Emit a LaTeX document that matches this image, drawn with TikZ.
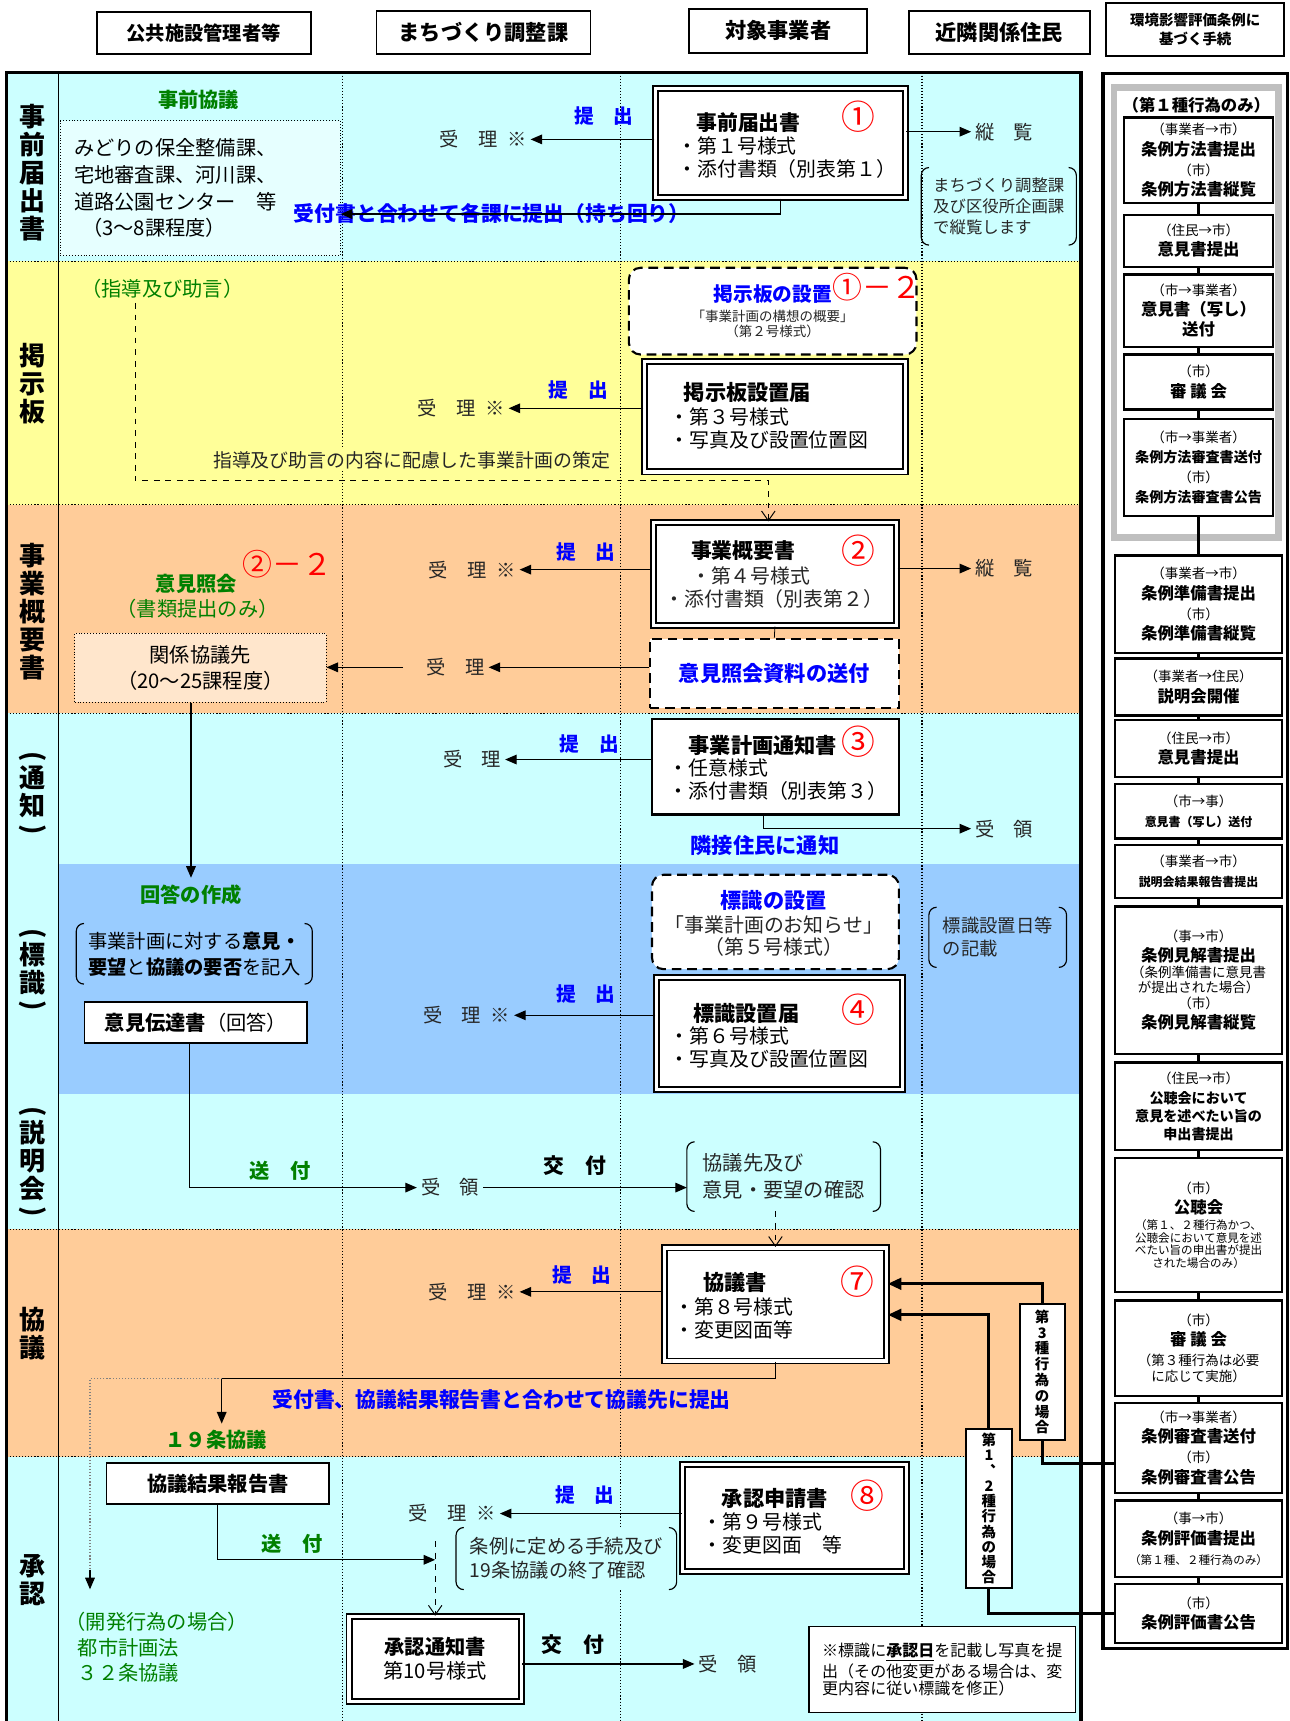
\documentclass[tikz,border=0pt]{standalone}
\usepackage{fontspec,graphicx}
\setmainfont{Noto Sans CJK JP}
\usetikzlibrary{arrows.meta,calc}
\newdimen\pu \pu=0.02cm
\definecolor{cbg}{HTML}{CCFFFF}\definecolor{ybg}{HTML}{FFFF99}\definecolor{obg}{HTML}{FFCC99}
\definecolor{bbg}{HTML}{99CCFF}\definecolor{lcy}{HTML}{E6FFFF}\definecolor{lpe}{HTML}{FFE6CC}
\definecolor{gtx}{HTML}{008000}\definecolor{btx}{HTML}{0000FF}\definecolor{rtx}{HTML}{FF0000}
\newcommand\fz[2]{\fontsize{#1}{#2}\selectfont}
\newcommand\csm{\fz{7}{9}}\newcommand\cbf{\fz{8.5}{10}\bfseries}\newcommand\cmd{\fz{7.3}{9}\bfseries}
\newcommand\ctn{\fz{6.2}{8}\bfseries}\newcommand\cxs{\fz{6}{7}}
\newcommand\vpo{\rotatebox[origin=c]{-90}{(}}\newcommand\vpc{\rotatebox[origin=c]{-90}{)}}
\newcommand\brk[1]{\draw[line width=0.6pt,rounded corners=4pt]([xshift=4pt]#1.north west)--(#1.north west)--(#1.south west)--([xshift=4pt]#1.south west)
 ([xshift=-4pt]#1.north east)--(#1.north east)--(#1.south east)--([xshift=-4pt]#1.south east);}
\tikzset{sz/.style 2 args={minimum width=#1\pu,minimum height=#2\pu},
 txt/.style={font=\fz{10}{12.5},text=black!85,inner sep=2pt},ttl/.style={font=\fz{10.8}{13}\bfseries,inner sep=1pt},
 itm/.style={font=\fz{10.3}{11.8},align=left,anchor=north west,inner sep=0pt},
 grn/.style={font=\fz{10.5}{13}\bfseries,text=gtx},blu/.style={font=\fz{10.2}{13}\bfseries,text=btx},
 rnum/.style={font=\fz{17.5}{18},text=rtx,inner sep=0pt},rnum2/.style={rnum,font=\fz{15.5}{16}},
 vl/.style={font=\fz{13.5}{14.5}\bfseries,align=center},
 hd/.style={draw,line width=1pt,fill=white,font=\fz{11}{13}\bfseries,align=center},
 bx/.style={draw,line width=1pt,fill=white,inner sep=0pt},
 dbx/.style={draw,line width=1pt,double=white,double distance=1.6pt,fill=white,inner sep=0pt},
 dsh/.style={draw,dash pattern=on 5pt off 3pt,line width=1.1pt,fill=white,rounded corners=6pt,inner sep=0pt},
 dtb/.style={draw,densely dotted,line width=0.5pt,inner sep=0pt},
 rb/.style={bx,line width=1.2pt,font=\fz{7}{10.5},align=center,minimum width=152\pu},
 vb/.style={bx,line width=1.2pt,font=\fz{7.5}{8.2}\bfseries,align=center},
 arr/.style={-{Triangle[length=6pt,width=5pt]},line width=0.6pt},
 darr/.style={dashed,-{Straight Barb[length=5pt,width=7pt]},line width=0.5pt},
 tarr/.style={-{Triangle[length=7pt,width=6pt]},line width=1.5pt}}
\begin{document}
\begin{tikzpicture}[x=0.02cm,y=-0.02cm]
\useasboundingbox (0,0) rectangle (1175,1568);
% bands
\fill[cbg](6,66)rectangle(985,238);\fill[ybg](6,238)rectangle(985,460);\fill[obg](6,460)rectangle(985,650);
\fill[cbg](6,650)rectangle(985,1120);\fill[bbg](53,787)rectangle(985,997);\fill[obg](6,1120)rectangle(985,1327);
\fill[cbg](6,1327)rectangle(985,1568);
\foreach \y in {238,460,650,1120,1327} \draw[densely dotted,line width=0.6pt](6,\y)--(985,\y);
\foreach \x in {312,565,840} \draw[densely dotted,line width=0.6pt](\x,66)--(\x,1568);
\draw[line width=1.8pt](6,1568)--(6,66)--(985,66)--(985,1568);\draw[line width=0.6pt](53,66)--(53,1568);
\draw[line width=1.8pt](1005,67)rectangle(1173,1502);\draw[line width=3.5pt,gray!50](1015,80)rectangle(1165,490);
% heads
\node[hd,sz={195}{38},font=\fz{10}{12}\bfseries](h1)at(185.5,30){公共施設管理者等};
\node[hd,sz={195}{39}](h2)at(440.5,29.5){まちづくり調整課};
\node[hd,sz={162}{40}](h3)at(709,28){対象事業者};
\node[hd,sz={165}{39}](h4)at(910.5,29.5){近隣関係住民};
\node[hd,sz={162}{48},font=\fz{7.5}{10}\bfseries](h5)at(1089,27){環境影響評価条例に\\基づく手続};
% left labels
\node[vl]at(30,157){事\\前\\届\\出\\書};\node[vl]at(30,350){掲\\示\\板};\node[vl]at(30,557){事\\業\\概\\要\\書};
\node[vl]at(30,724){\vpo\\[-3pt]通\\知\\[-3pt]\vpc};\node[vl]at(30,885){\vpo\\[-3pt]標\\識\\[-3pt]\vpc};
\node[vl]at(30,1060){\vpo\\[-3pt]説\\明\\会\\[-3pt]\vpc};\node[vl]at(30,1215){協\\議};\node[vl]at(30,1440){承\\認};
% jizen
\node[grn](jk)at(181,91){事前協議};
\node[dtb,fill=lcy,sz={255}{123},font=\fz{10.5}{13.8},align=left,text width=230\pu](kk)at(182.5,171.5){みどりの保全整備課、\\宅地審査課、河川課、\\道路公園センター　等\\\hspace{0.4em}（3～8課程度）};
\node[dbx,sz={228}{99}](jb)at(711,130.5){};
\node[ttl]at(682,112){事前届出書};\node[rnum]at(782,106){①};
\node[itm]at(617,124){・第１号様式\\・添付書類（別表第１）};
\node[txt](u1)at(440,127){受　理\enspace※};\node[blu]at(550,106){提　出};
\draw[arr](jb.west|-u1)--(u1.east);
\node[txt](ju1)at(915,120){縦　覧};\draw[arr](jb.east|-ju1)--(ju1.west);
\node[txt,font=\fz{8.5}{11},align=left,inner xsep=6pt,inner ysep=5pt](br1)at(910,188){まちづくり調整課\\及び区役所企画課\\で縦覧します};\brk{br1}
\node[blu,font=\fz{10.8}{13}\bfseries](jt)at(448,195){受付書と合わせて各課に提出（持ち回り）};
\draw[arr](jb.south)|-(kk.east|-jt);
% keijiban
\node[txt,text=gtx,font=\fz{10.5}{13}](sj)at(148,263){（指導及び助言）};
\node[dsh,sz={262}{79}](ks1)at(704,283.5){};
\node[blu]at(704,268){掲示板の設置};\node[rnum2]at(799,262){①－２};
\node[txt,font=\fz{7}{9}]at(704,288){「事業計画の構想の概要」};\node[txt,font=\fz{7}{9}]at(704,302){（第２号様式）};
\node[dbx,sz={238}{101}](kb)at(706,379.5){};
\node[ttl,font=\fz{11}{13}\bfseries]at(681,358){掲示板設置届};
\node[itm]at(610,371){・第３号様式\\・写真及び設置位置図};
\node[txt](u2)at(420,372){受　理\enspace※};\node[blu]at(527,355){提　出};
\draw[arr](kb.west|-u2)--(u2.east);
\node[txt,font=\fz{9.8}{11},fill=ybg,inner sep=1pt](kt)at(375,419){指導及び助言の内容に配慮した事業計画の策定};
% gaiyo
\node[grn]at(179,532){意見照会};\node[rnum2]at(262,514){②－２};
\node[txt,text=gtx,font=\fz{10.5}{13}]at(180,555){（書類提出のみ）};
\node[dtb,fill=lpe,sz={229}{63},font=\fz{10.5}{13.5},align=center](kkb)at(182.5,608.5){関係協議先\\（20～25課程度）};
\node[dbx,sz={222}{94}](gb)at(706,523){};
\node[ttl]at(677,502){事業概要書};\node[rnum]at(782,502){②};
\node[txt,font=\fz{10.3}{12}]at(684,525){・第４号様式};\node[txt,font=\fz{10.3}{12}]at(705,546){・添付書類（別表第２）};
\node[txt](u3)at(430,519){受　理\enspace※};\node[blu]at(534,503){提　出};
\draw[arr](gb.west|-u3)--(u3.east);
\node[txt](ju2)at(915,518){縦　覧};\draw[arr](gb.east|-ju2)--(ju2.west);
\node[dsh,rounded corners=0pt,sz={227}{63},font=\fz{11}{13}\bfseries,text=btx](ikb)at(705.5,613.5){意見照会資料の送付};
\draw(gb.south)--(ikb.north);
\node[txt](u3b)at(415,608){受　理};
\draw[arr](ikb.west|-u3b)--(u3b.east);\draw[arr,shorten <=10pt](u3b.west)--(kkb.east|-u3b);
\coordinate(sd)at(123,276);\draw[darr](sd)|-($(gb.north)+(-6,-37)$)--($(gb.north)+(-6,0)$);
% tsuchi
\node[bx,line width=1.2pt,sz={225}{87}](tb)at(706.5,698.5){};
\node[ttl,font=\fz{11}{13}\bfseries]at(695,679){事業計画通知書};\node[rnum]at(782,676){③};
\node[itm]at(609,691){・任意様式\\・添付書類（別表第３）};
\node[txt](u4)at(430,692){受　理};\node[blu]at(537,678){提　出};
\draw[arr](tb.west|-u4)--(u4.east);
\node[txt](ur1)at(915,755){受　領};\draw[arr]($(tb.south)+(-11,0)$)|-(ur1.west);
\node[blu,font=\fz{11}{13}\bfseries]at(697,770){隣接住民に通知};
% hyoshiki
\node[grn](ks)at(174,815){回答の作成};\draw[arr](kkb.south-|ks)--(ks.north);
\node[txt,text=black,font=\fz{10}{13.5},align=left,inner xsep=6pt,inner ysep=4pt](ik)at(177,869){事業計画に対する\textbf{意見・}\\\textbf{要望}と\textbf{協議の要否}を記入};\brk{ik}
\node[bx,sz={203}{37},font=\fz{10.5}{13}](idb)at(178.5,931.5){\textbf{意見伝達書}（回答）};
\node[dsh,sz={225}{86}](hs)at(706.5,840){};
\node[blu,font=\fz{11}{13}\bfseries]at(705,820){標識の設置};
\node[txt,font=\fz{10.3}{12}]at(705,843){「事業計画のお知らせ」};\node[txt,font=\fz{10.3}{12}]at(705,863){（第５号様式）};
\node[dbx,sz={224}{102}](hb)at(710,942){};
\node[ttl,font=\fz{11}{13}\bfseries]at(680,923){標識設置届};\node[rnum]at(782,920){④};
\node[itm]at(610,935){・第６号様式\\・写真及び設置位置図};
\node[txt](u5)at(425,925){受　理\enspace※};\node[blu]at(534,906){提　出};
\draw[arr](hb.west|-u5)--(u5.east);
\node[txt,font=\fz{9.5}{12},align=left,inner xsep=7pt,inner ysep=5pt](hk)at(909,854){標識設置日等\\の記載};\brk{hk}
% setsumeikai
\node[txt](ur2)at(410,1082){受　領};\draw[arr]($(idb.south)+(-6,0)$)|-(ur2.west);
\node[grn]at(255,1067){送　付};
\node[txt,font=\fz{10.5}{14},align=left,inner xsep=8pt,inner ysep=6pt](kn)at(714,1072){協議先及び\\意見・要望の確認};\brk{kn}
\node[ttl]at(524,1062){交　付};\draw[arr](ur2.east)--(kn.west|-ur2);
% kyogi
\node[dbx,sz={203}{103}](ky)at(706.5,1188.5){};
\draw[darr](kn.south-|ky.north)--(ky.north);
\node[ttl,font=\fz{11}{13}\bfseries]at(670,1168){協議書};\node[rnum]at(781,1168){⑦};
\node[itm]at(614,1182){・第８号様式\\・変更図面等};
\node[txt](u6)at(430,1177){受　理\enspace※};\node[blu]at(530,1162){提　出};
\draw[arr](ky.west|-u6)--(u6.east);
\node[blu,font=\fz{10.8}{13}\bfseries]at(457,1275){受付書、協議結果報告書と合わせて協議先に提出};
\node[grn](j19)at(197,1312){１９条協議};
\coordinate(k19)at(202,1256);\coordinate(k32)at(82,1448);
\draw[arr](ky.south)|-(k19)--(k19|-j19.north);
\draw[densely dotted,gray,line width=0.6pt](k19)-|(k32);\draw[arr](82,1430)--(k32);
\node[txt,text=gtx,font=\fz{10.5}{13.3},align=left,anchor=north west]at(56,1465){（開発行為の場合）\\\hspace{0.6em}都市計画法\\\hspace{0.6em}３２条協議};
% shonin
\node[bx,sz={203}{37},font=\fz{10.5}{13}\bfseries](kkh)at(198.5,1351.5){協議結果報告書};
\node[dbx,sz={157}{77},font=\fz{10.5}{12.5},align=center](sn)at(396.5,1511.5){\textbf{承認通知書}\\第10号様式};
\node[txt](u8)at(412,1379){受　理\enspace※};\node[blu]at(533,1362){提　出};
\node[dbx,sz={204}{98}](sa)at(724,1383){};
\node[ttl,font=\fz{11}{13}\bfseries]at(706,1365){承認申請書};\node[rnum]at(790,1363){⑧};
\node[itm]at(640,1378){・第９号様式\\・変更図面　等};
\draw[arr](sa.west|-u8)--(u8.east);
\node[txt,font=\fz{10}{12.5},align=left,fill=cbg,inner xsep=7pt,inner ysep=5pt](jk2)at(516,1420){条例に定める手続及び\\19条協議の終了確認};\brk{jk2}
\draw[darr]($(sn.north)+(0,-68)$)--(sn.north);
\draw[arr](kkh.south)|-($(sn.north)+(0,-51)$);\node[grn]at(266,1407){送　付};
\node[ttl]at(522,1498){交　付};\node[txt](ur3)at(663,1516){受　領};\draw[arr](sn.east|-ur3)--(ur3.west);
\node[bx,line width=0.6pt,sz={243}{78},font=\fz{8.3}{9.2},align=left](nb)at(858.5,1521){\textbf{※}標識に\underline{\textbf{承認日}}を記載し写真を提\\出（その他変更がある場合は、変\\更内容に従い標識を修正）};
% right column
\node[font=\cbf](g1)at(1090,96){（第１種行為のみ）};
\node[rb,sz={136}{78}](rb1)at(1092,146){{\csm（事業者→市）}\\{\cbf 条例方法書提出}\\{\csm（市）}\\{\cbf 条例方法書縦覧}};
\node[rb,sz={136}{47}](rb2)at(1092,219.5){{\csm（住民→市）}\\{\cbf 意見書提出}};
\node[rb,sz={136}{66}](rb3)at(1092,283){{\csm（市→事業者）}\\{\cbf 意見書（写し）}\\{\cbf 送付}};
\node[rb,sz={136}{50}](rb4)at(1092,348){{\csm（市）}\\{\cbf 審 議 会}};
\node[rb,sz={136}{88}](rb5)at(1092,426){{\csm（市→事業者）}\\{\cmd 条例方法審査書送付}\\{\csm（市）}\\{\cmd 条例方法審査書公告}};
\node[rb,minimum height=89\pu](rb6)at(1092,550.5){{\csm（事業者→市）}\\{\cbf 条例準備書提出}\\{\csm（市）}\\{\cbf 条例準備書縦覧}};
\node[rb,minimum height=52\pu](rb7)at(1092,626){{\csm（事業者→住民）}\\{\cbf 説明会開催}};
\node[rb,minimum height=52\pu](rb8)at(1092,682){{\csm（住民→市）}\\{\cbf 意見書提出}};
\node[rb,minimum height=50\pu](rb9)at(1092,739){{\csm（市→事）}\\{\ctn 意見書（写し）送付}};
\node[rb,minimum height=48\pu](rb10)at(1092,794){{\csm（事業者→市）}\\{\ctn 説明会結果報告書提出}};
\node[rb,minimum height=134\pu](rb11)at(1092,893){{\csm（事→市）}\\{\cbf 条例見解書提出}\\[-2pt]{\csm（条例準備書に意見書}\\[-3pt]{\csm が提出された場合）}\\[-2pt]{\csm（市）}\\{\cbf 条例見解書縦覧}};
\node[rb,minimum height=80\pu](rb12)at(1092,1008){{\csm（住民→市）}\\{\cmd 公聴会において}\\[-1pt]{\cmd 意見を述べたい旨の}\\[-1pt]{\cmd 申出書提出}};
\node[rb,minimum height=122\pu](rb13)at(1092,1116){{\csm（市）}\\{\cbf 公聴会}\\[-2pt]{\cxs（第１、２種行為かつ、}\\[-4pt]{\cxs 公聴会において意見を述}\\[-4pt]{\cxs べたい旨の申出書が提出}\\[-4pt]{\cxs された場合のみ）}};
\node[rb,minimum height=87\pu](rb14)at(1092,1228.5){{\csm（市）}\\{\cbf 審 議 会}\\{\csm（第３種行為は必要}\\[-2pt]{\csm に応じて実施）}};
\node[rb,minimum height=82\pu](rb15)at(1092,1319){{\csm（市→事業者）}\\{\cbf 条例審査書送付}\\{\csm（市）}\\{\cbf 条例審査書公告}};
\node[rb,minimum height=70\pu](rb16)at(1092,1402){{\csm（事→市）}\\{\cbf 条例評価書提出}\\{\cxs（第１種、２種行為のみ）}};
\node[rb,minimum height=54\pu](rb17)at(1092,1470){{\csm（市）}\\{\cbf 条例評価書公告}};
\foreach \a/\b in {rb1/rb2,rb2/rb3,rb3/rb4,rb4/rb5,rb5/rb6,rb6/rb7,rb7/rb8,rb8/rb9,rb9/rb10,rb10/rb11,rb11/rb12,rb12/rb13,rb13/rb14,rb14/rb15,rb15/rb16,rb16/rb17}
 \draw[line width=1.5pt](\a.south)--(\b.north);
\node[vb,sz={41}{124}](v3)at(949.5,1250){第\\3\\種\\行\\為\\の\\場\\合};
\node[vb,sz={42}{145},font=\fz{7.5}{7.9}\bfseries](v12)at(901,1374.5){第\\1\\︑\\2\\種\\行\\為\\の\\場\\合};
\draw[tarr](v3.north)|-($(ky.north east)!0.32!(ky.south east)$);
\draw[tarr](v12.north)|-($(ky.north east)!0.59!(ky.south east)$);
\draw[line width=1.5pt](v3.south)|-($(rb15.west)+(0,14)$);\draw[line width=1.5pt](v12.south)|-(rb17.west);
\end{tikzpicture}
\end{document}
